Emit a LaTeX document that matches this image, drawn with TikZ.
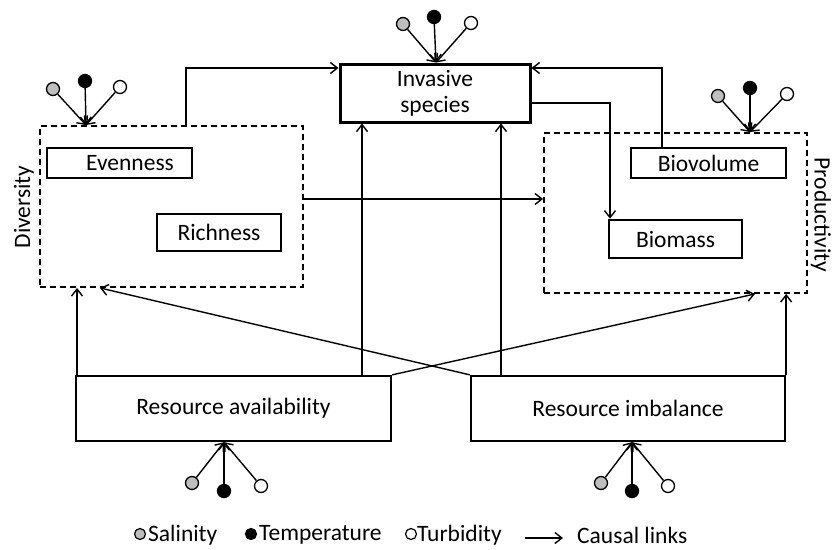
\documentclass[tikz,border=0pt]{standalone}
\usepackage{fontspec}
\setmainfont{Carlito}
\usetikzlibrary{arrows.meta,calc}
\definecolor{salgray}{RGB}{190,190,190}
\tikzset{
  txt/.style={font=\fontsize{23.5}{28}\selectfont},
  solidbox/.style={draw, line width=2.6pt, inner sep=0pt, txt, align=center},
  groupbox/.style={draw, dashed, dash pattern=on 6pt off 4pt, line width=1.9pt, inner sep=0pt},
  conn/.style={line width=1.4pt, -{Straight Barb[length=7pt,width=11pt,line width=1.4pt]}},
  factor/.style={circle, draw, line width=1.3pt, minimum size=13pt, inner sep=0pt},
  sal/.style={factor, fill=salgray},
  tem/.style={factor, fill=black},
  tur/.style={factor, fill=white},
  lgfactor/.style={circle, draw, line width=1.2pt, minimum size=11pt, inner sep=0pt},
}
\begin{document}
\begin{tikzpicture}[x=1pt,y=-1pt]
\useasboundingbox (0,0) rectangle (834,549);

% group boxes
\node[groupbox, minimum width=263pt, minimum height=161pt] (div) at (171.5,206.5) {};
\node[groupbox, minimum width=263pt, minimum height=160pt] (prod) at (675.5,213) {};
\node[txt, rotate=90, inner sep=0pt] (divlab) at (24,207) {Diversity};
\node[txt, rotate=-90, inner sep=0pt] (prodlab) at (821,215) {Productivity};

% boxes
\node[solidbox, minimum width=145pt, minimum height=30pt] (even) at (119.5,163) {\hspace*{21pt}Evenness};
\node[solidbox, minimum width=124pt, minimum height=37pt] (rich) at (219,232.5) {Richness};
\node[solidbox, line width=3pt, minimum width=190pt, minimum height=58pt] (inv) at (435,93) {\raisebox{-2pt}{Invasive}\\species};
\node[solidbox, minimum width=155pt, minimum height=30pt] (biovol) at (708.5,163) {Biovolume};
\node[solidbox, minimum width=133pt, minimum height=38pt] (biomass) at (675.5,239) {Biomass};
\node[solidbox, line width=2.3pt, minimum width=315pt, minimum height=65pt] (ra) at (233.5,408.5) {Resource availability};
\node[solidbox, line width=2.3pt, minimum width=314pt, minimum height=65pt] (ri) at (628,408.5) {Resource imbalance};

% causal links
\draw[conn] (div.north -| 186,0) |- (inv.west |- 0,68);
\draw[conn] (biovol.north -| 662,0) |- (inv.east |- 0,68);
\draw[conn] (inv.east |- 0,103) -| (biomass.north -| 610,0);
\draw[conn] (div.east |- 0,199) -- (prod.west |- 0,199);
\draw[conn] (ra.north -| 77,0) -- (div.south -| 77,0);
\draw[conn] (ra.north -| 362,0) -- (inv.south -| 362,0);
\draw[conn] (ra.north east) -- (prod.south -| 755,0);
\draw[conn] (ri.north west) -- (div.south -| 100,0);
\draw[conn] (ri.north -| 501,0) -- (inv.south -| 501,0);
\draw[conn] (ri.north east) -- (prod.south -| ri.east);

% environmental factors: diversity
\node[sal] (dS) at (53,89) {};
\node[tem] (dT) at (85,81) {};
\node[tur] (dU) at (120,87) {};
\draw[conn] (dS) -- (div.north -| 86,0);
\draw[conn] (dT) -- (div.north -| 86,0);
\draw[conn] (dU) -- (div.north -| 86,0);

% invasive species
\node[sal] (iS) at (403,24) {};
\node[tem] (iT) at (434,17) {};
\node[tur] (iU) at (471,23) {};
\draw[conn] (iS) -- (inv.north -| 436,0);
\draw[conn] (iT) -- (inv.north -| 436,0);
\draw[conn] (iU) -- (inv.north -| 436,0);

% productivity
\node[sal] (pS) at (718,96) {};
\node[tem] (pT) at (750,88) {};
\node[tur] (pU) at (787,94) {};
\draw[conn] (pS) -- (prod.north -| 750,0);
\draw[conn] (pT) -- (prod.north -| 750,0);
\draw[conn] (pU) -- (prod.north -| 750,0);

% resource availability
\node[sal] (aS) at (192,483) {};
\node[tem] (aT) at (224,491) {};
\node[tur] (aU) at (261,486) {};
\draw[conn] (aS) -- (ra.south -| 224,0);
\draw[conn] (aT) -- (ra.south -| 224,0);
\draw[conn] (aU) -- (ra.south -| 224,0);

% resource imbalance
\node[sal] (bS) at (601,483) {};
\node[tem] (bT) at (632,491) {};
\node[tur] (bU) at (668,486) {};
\draw[conn] (bS) -- (ri.south -| 632,0);
\draw[conn] (bT) -- (ri.south -| 632,0);
\draw[conn] (bU) -- (ri.south -| 632,0);

% legend
\node[lgfactor, fill=salgray] (lgS) at (140,534) {};
\node[txt, anchor=west, inner sep=0pt] (lgSt) at (148,535) {Salinity};
\node[lgfactor, fill=black] (lgT) at (251,534) {};
\node[txt, anchor=west, inner sep=0pt] (lgTt) at (259,535) {Temperature};
\node[lgfactor, fill=white] (lgU) at (411,534) {};
\node[txt, anchor=west, inner sep=0pt] (lgUt) at (417,535) {Turbidity};
\coordinate (lgA1) at (525,538);
\coordinate (lgA2) at (563,538);
\draw[conn] (lgA1) -- (lgA2);
\node[txt, anchor=west, inner sep=0pt] (lgCt) at (577,535) {Causal links};
\end{tikzpicture}
\end{document}
